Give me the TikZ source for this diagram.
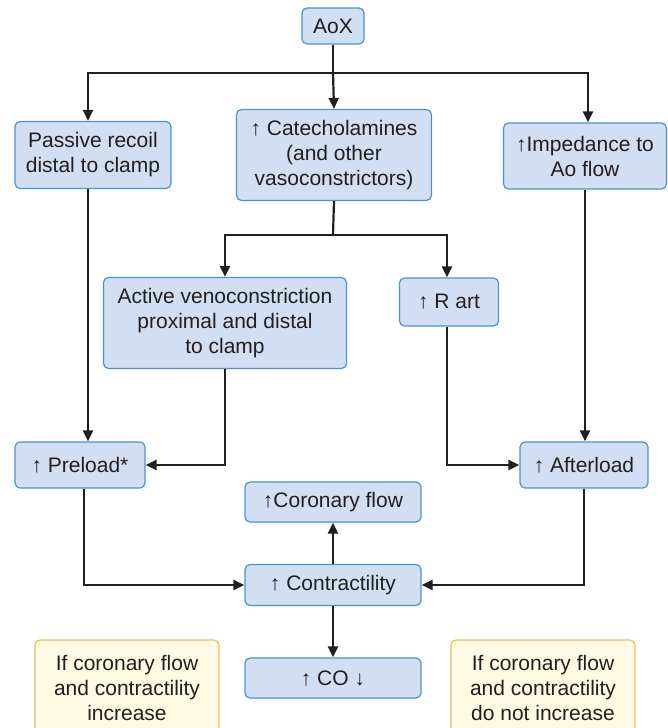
\documentclass[tikz,border=0pt]{standalone}
\usepackage{fontspec}
\setmainfont{Liberation Sans}
\usetikzlibrary{arrows.meta}

\definecolor{boxfill}{HTML}{D2DEF1}
\definecolor{boxline}{HTML}{4A94D4}
\definecolor{notefill}{HTML}{FDF9E2}
\definecolor{noteline}{HTML}{F6B86A}
\definecolor{linecol}{HTML}{231F20}

\tikzset{
  flowbox/.style={draw=boxline, fill=boxfill, line width=1.2pt, rounded corners=5pt,
    align=center, inner sep=2pt, text=linecol, font=\fontsize{21}{25}\selectfont},
  notebox/.style={flowbox, draw=noteline, fill=notefill},
  arr/.style={-{Triangle[length=11pt,width=10pt]}, line width=2.2pt, draw=linecol},
  plain/.style={line width=2.2pt, draw=linecol}
}

\begin{document}
\begin{tikzpicture}[x=1pt,y=-1pt]
\useasboundingbox (0,0) rectangle (668,728);

%top
\node[flowbox, minimum width=62, minimum height=36] (aox) at (333,26) {AoX};

%first row
\node[flowbox, minimum width=156, minimum height=67] (passive) at (93,155) {Passive recoil\\distal to clamp};
\node[flowbox, minimum width=195, minimum height=91] (catechol) at (334,155) {↑ Catecholamines\\(and other\\vasoconstrictors)};
\node[flowbox, minimum width=163, minimum height=66] (imped) at (585,156) {↑Impedance to\\Ao flow};

%second row
\node[flowbox, minimum width=243, minimum height=91] (active) at (225,323) {Active venoconstriction\\proximal and distal\\to clamp};
\node[flowbox, minimum width=99, minimum height=48] (rart) at (449,302) {↑ R art};

%loads
\node[flowbox, minimum width=130, minimum height=46] (preload) at (80,465) {↑ Preload*};
\node[flowbox, minimum width=128, minimum height=46] (afterload) at (584,465) {↑ Afterload};

%middle column
\node[flowbox, minimum width=176, minimum height=40] (coronary) at (333,502) {↑Coronary flow};
\node[flowbox, minimum width=176, minimum height=41] (contract) at (333,585) {↑ Contractility};
\node[flowbox, minimum width=176, minimum height=40] (co) at (333,678) {↑ CO ↓};

%notes
\node[notebox, minimum width=184, minimum height=96] (noteup) at (127,688) {If coronary flow\\and contractility\\increase};
\node[notebox, minimum width=184, minimum height=96] (notedown) at (543,688) {If coronary flow\\and contractility\\do not increase};

%split points
\coordinate (split1) at (333,73);
\coordinate (split2) at (333,235);

%arrows from AoX
\draw[plain] (aox.south) -- (split1);
\draw[arr] (split1) -| ([xshift=-5pt]passive.north);
\draw[arr] (split1) -- (catechol.north);
\draw[arr] (split1) -| ([xshift=3pt]imped.north);

%arrows from catecholamines
\draw[plain] (catechol.south) -- (split2);
\draw[arr] (split2) -| (active.north);
\draw[arr] (split2) -| ([xshift=-2pt]rart.north);

%to the loads
\draw[arr] ([xshift=-5pt]passive.south) -- ([xshift=-5pt]passive.south |- preload.north);
\draw[arr] (active.south) |- (preload.east);
\draw[arr] ([xshift=-2pt]rart.south) |- (afterload.west);
\draw[arr] (imped.south) -- (imped.south |- afterload.north);

%to contractility
\draw[arr] ([xshift=4pt]preload.south) |- (contract.west);
\draw[arr] (afterload.south) |- (contract.east);
\draw[arr] (contract.north) -- (coronary.south);
\draw[arr] (contract.south) -- (co.north);
\end{tikzpicture}
\end{document}
